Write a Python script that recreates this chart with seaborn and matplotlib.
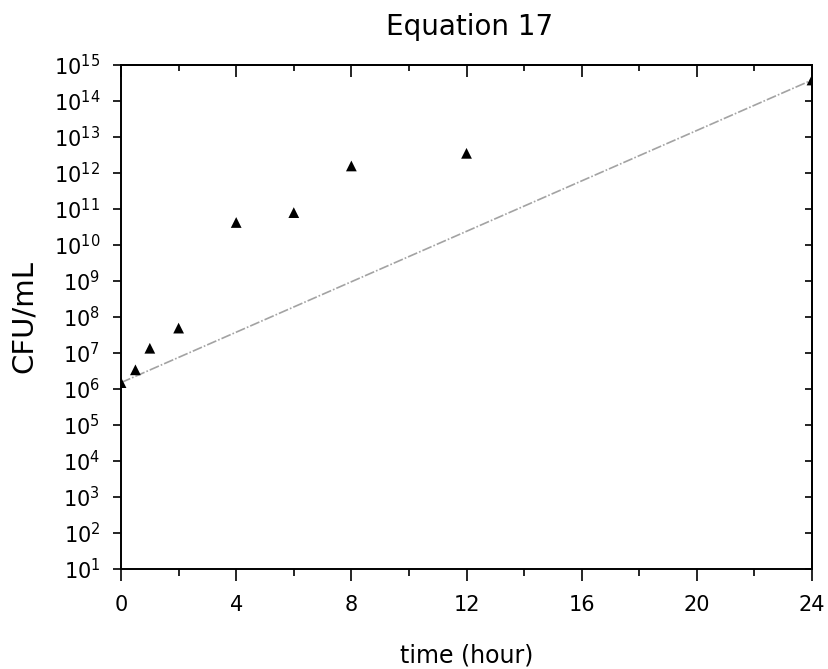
import matplotlib
matplotlib.use("Agg")
import matplotlib.pyplot as plt
import numpy as np
import pandas as pd
import seaborn as sns
from matplotlib.ticker import NullLocator, FixedLocator

time_h = [0, 0.5, 1, 2, 4, 6, 8, 12, 24]
cfu_ml = [1.5e6, 3.4e6, 1.35e7, 4.9e7, 4.2e10, 7.9e10, 1.56e12, 3.5e12, 3.8e14]

# Equation 17 model line
line_time = [0, 24]
line_cfu = [1.5e6, 3.8e14]

x_major = [0, 4, 8, 12, 16, 20, 24]
x_minor = [2, 6, 10, 14, 18, 22]
y_decades = [10.0 ** k for k in range(1, 16)]

df = pd.DataFrame({"time": time_h, "cfu": cfu_ml})
df_line = pd.DataFrame({"time": line_time, "cfu": line_cfu})

sns.set_style("ticks")
plt.rcParams["font.family"] = ["DejaVu Sans"]
plt.rcParams["mathtext.default"] = "regular"
plt.rcParams["text.color"] = "black"
plt.rcParams["axes.labelcolor"] = "black"
plt.rcParams["xtick.color"] = "black"
plt.rcParams["ytick.color"] = "black"

fig = plt.figure(figsize=(8.29, 6.69), dpi=100)
ax = fig.add_axes([0.146, 0.1495, 0.8335, 0.7535])

sns.lineplot(data=df_line, x="time", y="cfu", ax=ax, color="#a3a3a3",
             linewidth=1.2, linestyle=(0, (6, 1.2, 1, 1.2)))
sns.scatterplot(data=df, x="time", y="cfu", ax=ax, marker="^", s=60,
                color="black", edgecolor="none", zorder=3)

ax.set_yscale("log")
ax.set_xlim(0, 24)
ax.set_ylim(1e1, 1e15)
ax.set_xticks(x_major)
ax.xaxis.set_minor_locator(FixedLocator(x_minor))
ax.yaxis.set_major_locator(FixedLocator(y_decades))
ax.yaxis.set_minor_locator(NullLocator())

for s in ax.spines.values():
    s.set_linewidth(1.4)
    s.set_color("black")

ax.tick_params(axis="x", which="major", direction="out", length=8.5, width=1.2,
               pad=10.5, labelsize=15)
ax.tick_params(axis="x", which="minor", direction="out", length=5, width=1.2)
ax.tick_params(axis="y", which="major", direction="out", length=6, width=1.2,
               pad=9, labelsize=15)

# mirrored ticks pointing inward on top and right
top = ax.secondary_xaxis("top")
top.set_xticks(x_major)
top.xaxis.set_minor_locator(FixedLocator(x_minor))
top.tick_params(which="major", direction="in", length=8.5, width=1.2, labeltop=False)
top.tick_params(which="minor", direction="in", length=4.5, width=1.2)
top.spines["top"].set_linewidth(1.4)

right = ax.secondary_yaxis("right")
right.yaxis.set_major_locator(FixedLocator(y_decades))
right.yaxis.set_minor_locator(NullLocator())
right.tick_params(which="major", direction="in", length=5, width=1.2, labelright=False)
right.spines["right"].set_linewidth(1.4)

ax.set_xlabel("time (hour)", fontsize=17)
ax.set_ylabel("CFU/mL", fontsize=21)
ax.xaxis.set_label_coords(0.5, -0.147)
ax.yaxis.set_label_coords(-0.12, 0.5)

fig.text(0.567, 1 - 35 / 669, "Equation 17", ha="center", va="baseline", fontsize=20)

fig.savefig("out.png", dpi=100)
